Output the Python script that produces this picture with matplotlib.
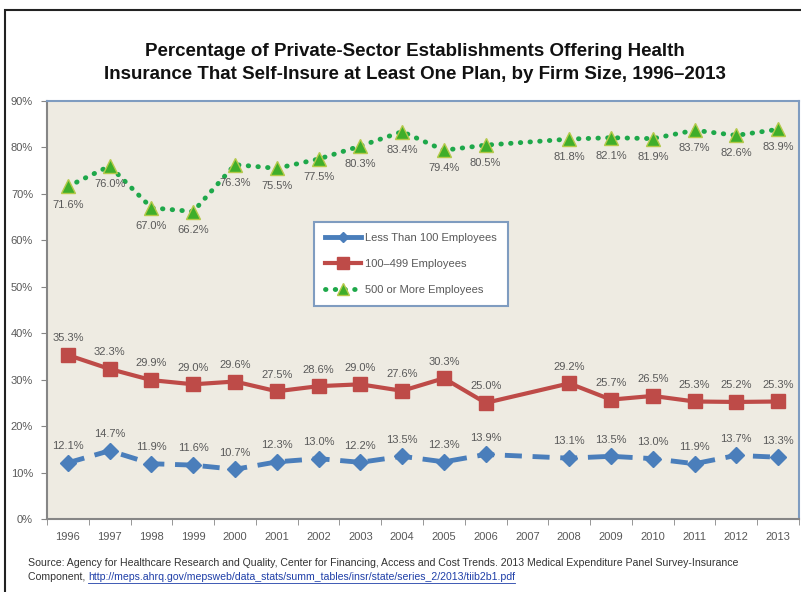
import matplotlib.pyplot as plt
import matplotlib.patches as patches
from matplotlib.lines import Line2D
import numpy as np

plt.rcParams['font.family'] = ['Liberation Sans', 'DejaVu Sans']

years = ['1996', '1997', '1998', '1999', '2000', '2001', '2002', '2003', '2004',
         '2005', '2006', '2007', '2008', '2009', '2010', '2011', '2012', '2013']
# 2007 has no survey data
small = [12.1, 14.7, 11.9, 11.6, 10.7, 12.3, 13.0, 12.2, 13.5, 12.3, 13.9, None,
         13.1, 13.5, 13.0, 11.9, 13.7, 13.3]
medium = [35.3, 32.3, 29.9, 29.0, 29.6, 27.5, 28.6, 29.0, 27.6, 30.3, 25.0, None,
          29.2, 25.7, 26.5, 25.3, 25.2, 25.3]
large = [71.6, 76.0, 67.0, 66.2, 76.3, 75.5, 77.5, 80.3, 83.4, 79.4, 80.5, None,
         81.8, 82.1, 81.9, 83.7, 82.6, 83.9]
series_names = ['Less Than 100 Employees', '100\u2013499 Employees', '500 or More Employees']

title = ('Percentage of Private-Sector Establishments Offering Health\n'
         'Insurance That Self-Insure at Least One Plan, by Firm Size, 1996\u20132013')
source1 = ('Source: Agency for Healthcare Research and Quality, Center for Financing, Access and Cost Trends. '
           '2013 Medical Expenditure Panel Survey-Insurance')
source2 = 'Component, '
source_url = 'http://meps.ahrq.gov/mepsweb/data_stats/summ_tables/insr/state/series_2/2013/tiib2b1.pdf'

BLUE = '#4a7ebb'
RED = '#be4b48'
GREEN = '#1ea84a'
TRI = '#3fae2a'
TRI_EDGE = '#b5c94a'
TXT = '#595959'

fig = plt.figure(figsize=(8.01, 5.92), dpi=100)

# outer frame (left / top visible)
fig.patches.append(patches.Rectangle((5 / 801, -0.1), 1.2, (592 - 10) / 592 + 0.1,
                                     transform=fig.transFigure, fill=False,
                                     edgecolor='#222222', linewidth=1.5))

ax = fig.add_axes([47 / 801, 1 - 519 / 592, (799 - 47) / 801, (519 - 101) / 592])
ax.set_facecolor('#eeebe2')

x = np.arange(len(years))


def valid(vals):
    xs = [i for i, v in enumerate(vals) if v is not None]
    ys = [v for v in vals if v is not None]
    return np.array(xs), np.array(ys)


xs, ys = valid(small)
ax.plot(xs, ys, color=BLUE, lw=3.5, ls=(0, (3.5, 2.2)), marker='D', ms=8,
        markeredgecolor=BLUE, zorder=3)
for xi, yi in zip(xs, ys):
    ax.annotate(f'{yi:.1f}%', (xi, yi), xytext=(0, 12), textcoords='offset points',
                ha='center', va='center', fontsize=8, color=TXT)

xs, ys = valid(medium)
ax.plot(xs, ys, color=RED, lw=3, marker='s', ms=10, markeredgecolor=RED, zorder=3)
for xi, yi in zip(xs, ys):
    ax.annotate(f'{yi:.1f}%', (xi, yi), xytext=(0, 12), textcoords='offset points',
                ha='center', va='center', fontsize=8, color=TXT)

xs, ys = valid(large)
ax.plot(xs, ys, color=GREEN, lw=3.5, ls=(0, (0.1, 1.9)), dash_capstyle='round',
        zorder=3)
ax.plot(xs, ys, ls='none', marker='^', ms=10, markerfacecolor=TRI,
        markeredgecolor=TRI_EDGE, markeredgewidth=1, zorder=4)
for xi, yi in zip(xs, ys):
    ax.annotate(f'{yi:.1f}%', (xi, yi), xytext=(0, -13), textcoords='offset points',
                ha='center', va='center', fontsize=8, color=TXT)

ax.set_xlim(-0.5, len(years) - 0.5)
ax.set_ylim(0, 90)
ax.set_yticks(np.arange(0, 91, 10))
ax.set_yticklabels([f'{v}%' for v in range(0, 91, 10)])
ax.set_xticks(x)
ax.set_xticklabels(years)
ax.set_xticks(np.arange(-0.5, len(years), 1), minor=True)
ax.tick_params(axis='x', which='major', length=0, pad=9, labelsize=8, colors=TXT)
ax.tick_params(axis='x', which='minor', length=4, color='#868686', direction='out')
ax.tick_params(axis='y', length=4, color='#868686', labelsize=8, colors=TXT, pad=6)
for lbl in ax.get_yticklabels() + ax.get_xticklabels():
    lbl.set_color(TXT)

ax.spines['left'].set_color('#868686')
ax.spines['bottom'].set_color('#868686')
ax.spines['top'].set_color('#7f9cc0')
ax.spines['right'].set_color('#7f9cc0')
for s in ax.spines.values():
    s.set_linewidth(1.5)

handles = [
    Line2D([], [], color=BLUE, lw=3.5, marker='D', ms=5),
    Line2D([], [], color=RED, lw=3, marker='s', ms=9),
    Line2D([], [], color=GREEN, lw=3.5, ls=(0, (0.1, 1.9)), dash_capstyle='round',
           marker='^', ms=8, markerfacecolor=TRI, markeredgecolor=TRI_EDGE),
]
leg = ax.legend(handles, series_names, loc='upper left',
                bbox_to_anchor=((314 - 47) / 752, (519 - 222) / 418),
                frameon=True, fancybox=False, fontsize=8, labelspacing=1.45,
                handlelength=3.2, borderpad=1.0, borderaxespad=0,
                handletextpad=0.4, labelcolor=TXT)
leg.get_frame().set_edgecolor('#7f9cc0')
leg.get_frame().set_linewidth(1.5)
leg.get_frame().set_facecolor('white')
leg.get_frame().set_alpha(1)

fig.text(415 / 801, 1 - 63 / 592, title, ha='center', va='center', fontsize=13.5,
         fontweight='bold', color='#111111', linespacing=1.4)

fig.text(28 / 801, 1 - 563 / 592, source1, ha='left', va='center', fontsize=7.6,
         color='#333333')
t = fig.text(28 / 801, 1 - 577 / 592, source2, ha='left', va='center', fontsize=7.6,
             color='#333333')
fig.canvas.draw()
bb = t.get_window_extent()
u = fig.text(bb.x1 / fig.bbox.width, 1 - 577 / 592, source_url, ha='left', va='center',
             fontsize=7.6, color='#1f3fa8', url=source_url)
fig.canvas.draw()
ub = u.get_window_extent()
fig.lines.append(Line2D([ub.x0 / fig.bbox.width, ub.x1 / fig.bbox.width],
                        [(ub.y0 - 1) / fig.bbox.height] * 2, transform=fig.transFigure,
                        color='#1f3fa8', lw=0.6))

fig.savefig('out.png', dpi=100)
